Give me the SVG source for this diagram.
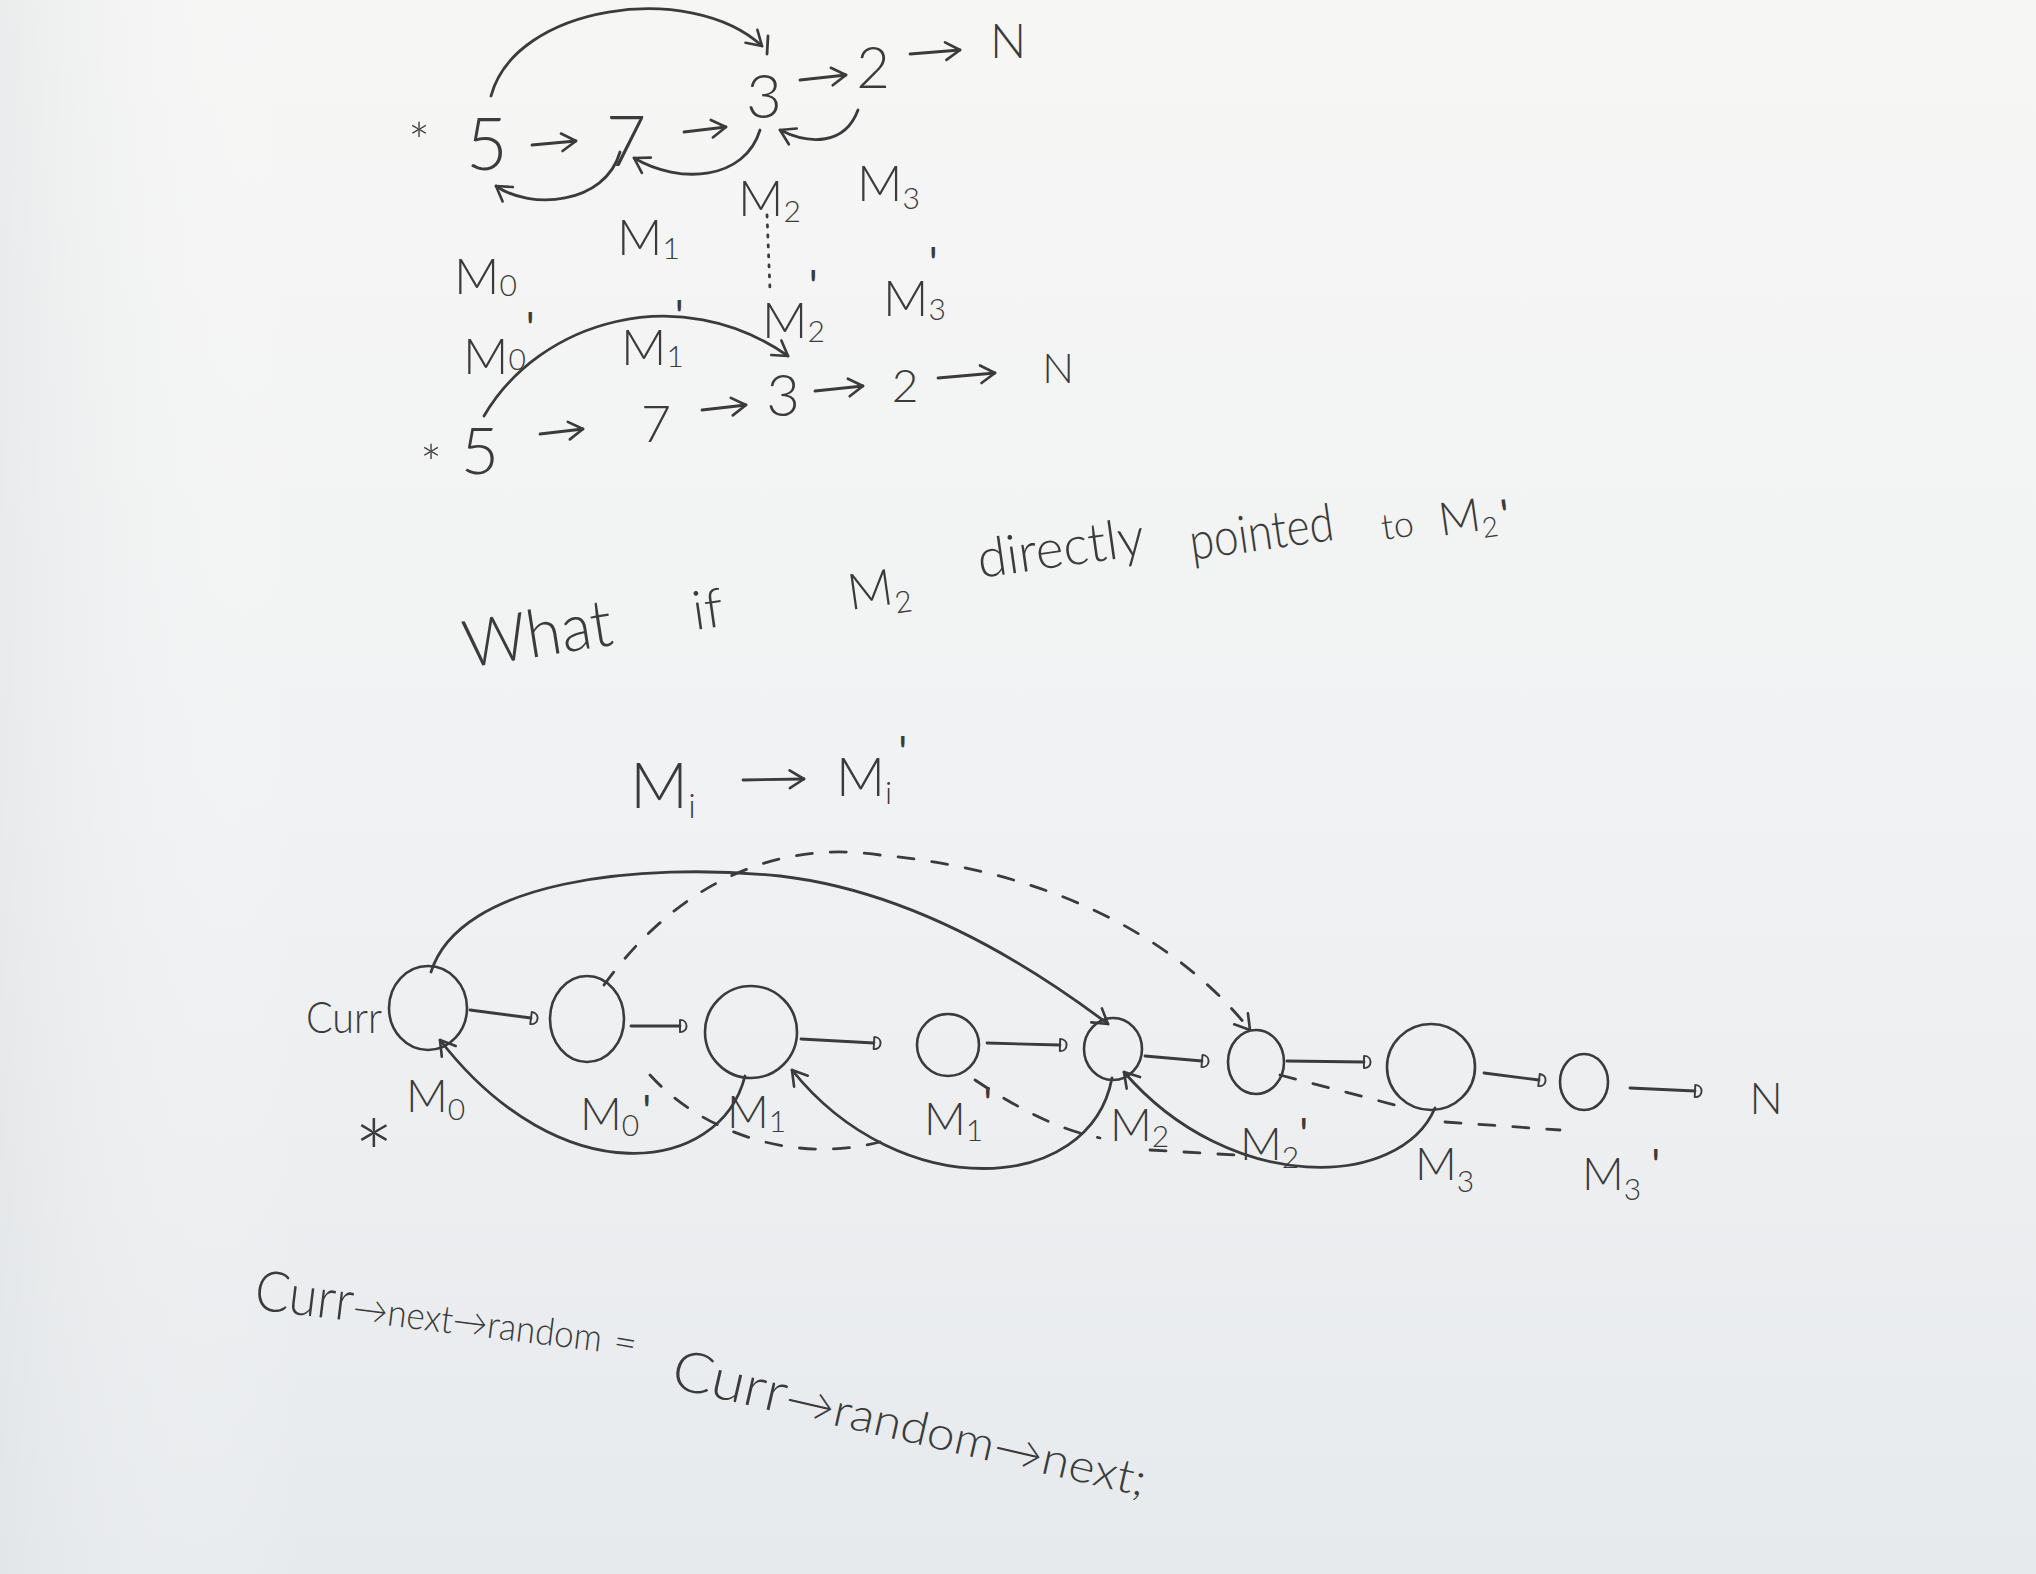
<svg xmlns="http://www.w3.org/2000/svg" width="2036" height="1574" viewBox="0 0 2036 1574">
<defs>
<linearGradient id="bg" x1="0" y1="0" x2="0" y2="1">
<stop offset="0" stop-color="#f6f6f5"/>
<stop offset="0.5" stop-color="#f1f2f3"/>
<stop offset="1" stop-color="#e7eaed"/>
</linearGradient>
<linearGradient id="bgx" x1="0" y1="0" x2="1" y2="0">
<stop offset="0" stop-color="#dfe2e4" stop-opacity="0.5"/>
<stop offset="0.15" stop-color="#ffffff" stop-opacity="0"/>
<stop offset="1" stop-color="#ffffff" stop-opacity="0"/>
</linearGradient>
<marker id="chev" viewBox="0 0 20 20" refX="17" refY="10" markerWidth="22" markerHeight="22" markerUnits="userSpaceOnUse" orient="auto">
<path d="M4,2 L17,10 L4,18" fill="none" stroke="#3b3b3b" stroke-width="2.4" stroke-linecap="round" stroke-linejoin="round"/>
</marker>
<marker id="dh" viewBox="0 0 16 20" refX="4" refY="10" markerWidth="14" markerHeight="18" markerUnits="userSpaceOnUse" orient="auto">
<path d="M4,3 L4,17 M4,3 C14,3 14,17 4,17" fill="none" stroke="#3b3b3b" stroke-width="2.2" stroke-linecap="round"/>
</marker>
</defs>
<style>
.ink{fill:#3b3b3b;font-family:Lato,"Open Sans","Liberation Sans",sans-serif;font-weight:300}
.m{font-size:50px}
.sub{font-size:30px}
.pr{font-size:44px;font-weight:400}
.ln{fill:none;stroke:#3b3b3b;stroke-width:2.8;stroke-linecap:round;stroke-linejoin:round}
.ar{marker-end:url(#chev)}
.dh{marker-end:url(#dh)}
.dash{stroke-dasharray:16 18}
.dot{stroke-dasharray:2 8}
.node{fill:none;stroke:#3b3b3b;stroke-width:2.6}
</style>
<rect width="2036" height="1574" fill="url(#bg)"/>
<rect width="2036" height="1574" fill="url(#bgx)"/>

<!-- ===== top list 1 ===== -->
<g id="top1">
<g id="t1-star"><text class="ink" x="419" y="160" font-size="52" text-anchor="middle">*</text></g>
<g id="t1-n5"><text class="ink" x="487" y="170" font-size="72" text-anchor="middle">5</text></g>
<g id="t1-n7"><text class="ink" x="626" y="166" font-size="70" text-anchor="middle">7</text></g>
<g id="t1-n3"><text class="ink" x="764" y="118" font-size="62" text-anchor="middle">3</text></g>
<g id="t1-n2"><text class="ink" x="873" y="88" font-size="58" text-anchor="middle">2</text></g>
<g id="t1-N"><text class="ink" x="1008" y="58" font-size="48" text-anchor="middle">N</text></g>
<g id="t1-labels" class="ink">
<text x="857" y="201" class="m">M<tspan class="sub" dy="8">3</tspan></text>
<text x="738" y="216" class="m">M<tspan class="sub" dy="6">2</tspan></text>
<text x="617" y="255" class="m">M<tspan class="sub" dy="4">1</tspan></text>
<text x="454" y="294" class="m">M<tspan class="sub" dy="2">0</tspan></text>
</g>
</g>

<!-- ===== top list 2 ===== -->
<g id="top2">
<g id="t2-labels" class="ink">
<text x="762" y="338" class="m">M<tspan class="sub" dy="4">2</tspan><tspan class="pr" dx="-16" dy="-40">'</tspan></text>
<text x="883" y="316" class="m">M<tspan class="sub" dy="4">3</tspan><tspan class="pr" dx="-17" dy="-41">'</tspan></text>
<text x="621" y="365" class="m">M<tspan class="sub" dy="2">1</tspan><tspan class="pr" dx="-9" dy="-35">'</tspan></text>
<text x="463" y="374" class="m">M<tspan class="sub" dy="-4">0</tspan><tspan class="pr" dx="0" dy="-26">'</tspan></text>
</g>
<g id="t2-star"><text class="ink" x="431" y="482" font-size="52" text-anchor="middle">*</text></g>
<g id="t2-n5"><text class="ink" x="480" y="474" font-size="66" text-anchor="middle">5</text></g>
<g id="t2-n7"><text class="ink" x="656" y="442" font-size="52" text-anchor="middle">7</text></g>
<g id="t2-n3"><text class="ink" x="783" y="416" font-size="58" text-anchor="middle">3</text></g>
<g id="t2-n2"><text class="ink" x="905" y="402" font-size="46" text-anchor="middle">2</text></g>
<g id="t2-N"><text class="ink" x="1058" y="383" font-size="42" text-anchor="middle">N</text></g>
</g>

<!-- ===== middle text ===== -->
<g id="question" class="ink">
<text x="467" y="668" font-size="66" transform="rotate(-9 467 668)" textLength="150" lengthAdjust="spacingAndGlyphs">What</text>
<text x="695" y="630" font-size="54" transform="rotate(-8 695 630)">if</text>
<text x="850" y="610" font-size="50" transform="rotate(-8 850 610)">M<tspan font-size="30" dy="10">2</tspan></text>
<text x="980" y="578" font-size="54" transform="rotate(-8 980 578)" textLength="168" lengthAdjust="spacingAndGlyphs">directly</text>
<text x="1192" y="560" font-size="52" transform="rotate(-8 1192 560)" textLength="145" lengthAdjust="spacingAndGlyphs">pointed</text>
<text x="1383" y="540" font-size="36" transform="rotate(-8 1383 540)">to</text>
<text x="1441" y="536" font-size="46" transform="rotate(-8 1441 536)">M<tspan font-size="28" dy="8">2</tspan><tspan class="pr" dx="4" dy="-4">'</tspan></text>
</g>
<g id="rule" class="ink">
<text x="630" y="808" font-size="64">M<tspan font-size="34" dy="10">i</tspan></text>
<text x="836" y="796" font-size="54">M<tspan font-size="32" dy="8">i</tspan><tspan class="pr" font-size="46" dx="6" dy="-36">'</tspan></text>
</g>

<!-- ===== bottom diagram nodes ===== -->
<g id="curr-label"><text class="ink" x="306" y="1033" font-size="44" textLength="76" lengthAdjust="spacingAndGlyphs">Curr</text></g>
<g id="b-M0"><ellipse class="node" cx="428" cy="1008" rx="39" ry="42"/><text class="ink" x="406" y="1112" font-size="46">M<tspan class="sub" dy="8">0</tspan></text></g>
<g id="b-star"><text class="ink" x="374" y="1190" font-size="96" text-anchor="middle">*</text></g>
<g id="b-M0p"><ellipse class="node" cx="587" cy="1019" rx="37" ry="43"/><text class="ink" x="580" y="1130" font-size="46">M<tspan class="sub" dy="6">0</tspan><tspan class="pr" dx="3" dy="-9">'</tspan></text></g>
<g id="b-M1"><ellipse class="node" cx="751" cy="1032" rx="46" ry="46"/><text class="ink" x="727" y="1128" font-size="46">M<tspan class="sub" dy="4">1</tspan></text></g>
<g id="b-M1p"><ellipse class="node" cx="948" cy="1045" rx="31" ry="31"/><text class="ink" x="924" y="1135" font-size="46">M<tspan class="sub" dy="6">1</tspan><tspan class="pr" dx="0" dy="-22">'</tspan></text></g>
<g id="b-M2"><ellipse class="node" cx="1113" cy="1049" rx="29" ry="31"/><text class="ink" x="1110" y="1141" font-size="46">M<tspan class="sub" dy="6">2</tspan></text></g>
<g id="b-M2p"><ellipse class="node" cx="1256" cy="1062" rx="28" ry="32"/><text class="ink" x="1240" y="1160" font-size="46">M<tspan class="sub" dy="8">2</tspan><tspan class="pr" dx="0" dy="-18">'</tspan></text></g>
<g id="b-M3"><ellipse class="node" cx="1431" cy="1067" rx="44" ry="43"/><text class="ink" x="1415" y="1180" font-size="46">M<tspan class="sub" dy="12">3</tspan></text></g>
<g id="b-M3p"><ellipse class="node" cx="1584" cy="1082" rx="24" ry="28"/><text class="ink" x="1582" y="1190" font-size="46">M<tspan class="sub" dy="10">3</tspan><tspan class="pr" dx="10" dy="-19">'</tspan></text></g>
<g id="b-N"><text class="ink" x="1766" y="1114" font-size="44" text-anchor="middle">N</text></g>

<!-- ===== formula ===== -->
<g id="formula" class="ink">
<text x="253" y="1309" transform="rotate(7 253 1309)" textLength="350" lengthAdjust="spacingAndGlyphs"><tspan font-size="56">Curr</tspan><tspan font-size="38">→next→random</tspan></text>
<text x="623" y="1356" font-size="40" text-anchor="middle" transform="rotate(10 623 1356)">=</text>
<text x="669" y="1387" transform="rotate(13 669 1387)" textLength="486" lengthAdjust="spacingAndGlyphs"><tspan font-size="56">Curr</tspan><tspan font-size="46">→random→next;</tspan></text>
</g>

<!-- ===== connectors ===== -->
<g id="connectors">
<!-- top list 1 -->
<path class="ln ar" d="M532 145 L576 141"/>
<path class="ln ar" d="M684 132 L726 127"/>
<path class="ln ar" d="M800 80 L846 75"/>
<path class="ln ar" d="M910 54 L960 50"/>
<path class="ln ar" d="M491 96 C515 5, 690 -20, 762 46"/>
<path class="ln" d="M768 36 L767 54"/>
<path class="ln ar" d="M620 152 C605 205, 530 210, 496 186"/>
<path class="ln ar" d="M760 130 C745 180, 680 185, 634 158"/>
<path class="ln ar" d="M858 110 C845 145, 810 145, 780 130"/>
<path class="ln dot" d="M767 215 L770 290"/>
<!-- top list 2 -->
<path class="ln ar" d="M484 416 C540 320, 680 280, 788 356"/>
<path class="ln ar" d="M540 434 L583 429"/>
<path class="ln ar" d="M702 410 L746 405"/>
<path class="ln ar" d="M815 391 L863 386"/>
<path class="ln ar" d="M938 378 L995 373"/>
<!-- rule arrow -->
<path class="ln ar" d="M743 780 L804 779"/>
<!-- bottom next arrows -->
<path class="ln dh" d="M470 1010 L531 1018"/>
<path class="ln dh" d="M631 1026 L680 1026"/>
<path class="ln dh" d="M801 1039 L874 1043"/>
<path class="ln dh" d="M987 1043 L1060 1045"/>
<path class="ln dh" d="M1145 1056 L1202 1061"/>
<path class="ln dh" d="M1287 1061 L1364 1062"/>
<path class="ln dh" d="M1484 1073 L1539 1080"/>
<path class="ln dh" d="M1630 1088 L1695 1091"/>
<!-- big arcs -->
<path class="ln ar" d="M431 972 C460 880, 640 862, 780 876 C900 890, 1010 950, 1108 1024"/>
<path class="ln ar dash" d="M604 985 C680 880, 780 840, 880 855 C1040 870, 1170 930, 1250 1030"/>
<!-- random pointers of originals -->
<path class="ln ar" d="M745 1076 C720 1175, 560 1195, 440 1040"/>
<path class="ln ar" d="M1112 1078 C1090 1195, 900 1205, 792 1070"/>
<path class="ln ar" d="M1435 1108 C1400 1190, 1230 1195, 1124 1072"/>
<!-- random pointers of copies (dashed) -->
<path class="ln dash" d="M650 1075 C700 1130, 790 1165, 880 1142"/>
<path class="ln dash" d="M975 1080 C1020 1110, 1060 1130, 1100 1138"/>
<path class="ln dash" d="M1150 1150 L1235 1155"/>
<path class="ln dash" d="M1280 1075 L1395 1105"/>
<path class="ln dash" d="M1445 1122 L1560 1130"/>
</g>
</svg>
